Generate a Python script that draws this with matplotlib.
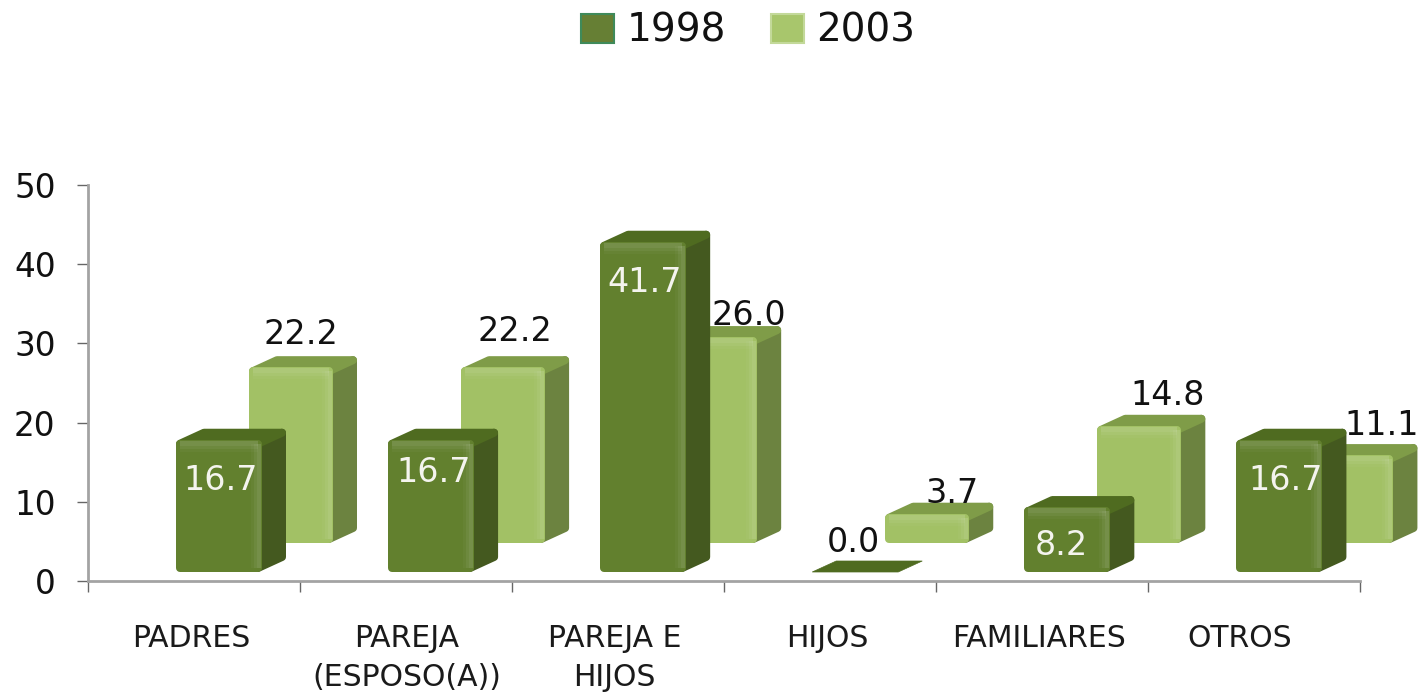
import numpy as np
import matplotlib
matplotlib.use('Agg')
import matplotlib.pyplot as plt
from matplotlib.patches import Patch, Polygon

categories = ['PADRES', 'PAREJA\n(ESPOSO(A))', 'PAREJA E\nHIJOS', 'HIJOS', 'FAMILIARES', 'OTROS']
years = ['1998', '2003']
values_1998 = [16.7, 16.7, 41.7, 0.0, 8.2, 16.7]
values_2003 = [22.2, 22.2, 26.0, 3.7, 14.8, 11.1]
y_ticks = [0, 10, 20, 30, 40, 50]

W, H = 1422, 696
AX_L, AX_R, AX_B, AX_T = 87.5, 1360, 581, 185
px_x = (AX_R - AX_L) / 6
px_y = (AX_B - AX_T) / 50
depth_x = 24 / px_x
depth_y = 11 / px_y
R = 4  # corner rounding in pixels


def bars_3d(ax, lefts, values, width, base, front, side, top, zorder):
    # side and top first, the front goes over them
    rx, ry = R / px_x, R / px_y
    for x, v in zip(lefts, values):
        y = base + v
        r = x + width
        if v > 0:
            ax.add_patch(Polygon([(r - rx, base + ry), (r + depth_x - rx, base + depth_y + ry),
                                  (r + depth_x - rx, y + depth_y - ry), (r - rx, y - ry)],
                                 fc=side, ec=side, lw=R * 1.44, joinstyle='round',
                                 zorder=zorder, clip_on=False))
            ax.add_patch(Polygon([(x + rx, y - ry), (x + depth_x + rx, y + depth_y - ry),
                                  (r + depth_x - rx, y + depth_y - ry), (r - rx, y - ry)],
                                 fc=top, ec=top, lw=R * 1.44, joinstyle='round',
                                 zorder=zorder + 0.1, clip_on=False))
            b = ax.bar(x + rx, v - 2 * ry, width=width - 2 * rx, bottom=base + ry, align='edge',
                       color=front, edgecolor=front, linewidth=R * 1.44, zorder=zorder + 0.2,
                       clip_on=False)
            b[0].set_joinstyle('round')
            # soft highlight along the right and top edge of the front
            for k, a in zip([11, 8, 5], [0.03, 0.05, 0.06]):
                ax.bar(r - k / px_x, v - 2 * ry, width=(k - 1) / px_x, bottom=base + ry, align='edge',
                       color='white', alpha=a, linewidth=0, zorder=zorder + 0.3, clip_on=False)
                ax.bar(x + rx, k / px_y, width=width - 2 * rx, bottom=y - (k + 1) / px_y, align='edge',
                       color='white', alpha=a, linewidth=0, zorder=zorder + 0.3, clip_on=False)
        else:
            ax.add_patch(Polygon([(x, y), (x + depth_x, y + depth_y),
                                  (r + depth_x, y + depth_y), (r, y)],
                                 fc=top, ec=top, lw=0.5, zorder=zorder, clip_on=False))


fig = plt.figure(figsize=(W / 100, H / 100), dpi=100)
ax = fig.add_axes([AX_L / W, 1 - AX_B / H, (AX_R - AX_L) / W, (AX_B - AX_T) / H])

idx = np.arange(6)
left_1998 = idx + (176 - AX_L) / px_x
left_2003 = idx + (249 - AX_L) / px_x
bars_3d(ax, left_2003, values_2003, 84 / px_x, 38 / px_y,
        '#a2c165', '#6c8340', '#7f9c48', 3)
bars_3d(ax, left_1998, values_1998, 86 / px_x, 9 / px_y,
        '#62802e', '#44591f', '#4f6b20', 5)
ax.set_xlim(0, 6)
ax.set_ylim(0, 50)

# data labels, offsets in pixels from the middle of the bar top
off_1998 = [(2, -41), (3, -33), (1, -41), (-2, 29), (-6, -38), (6, -41)]
off_2003 = [(10, 33), (12, 36), (34, 22), (25, 20), (28, 30), (30, 30)]
for i in idx:
    v = values_1998[i]
    dx, dy = off_1998[i]
    ax.annotate(f'{v:.1f}', (left_1998[i] + 43 / px_x, v + 9 / px_y),
                xytext=(dx * 0.72, dy * 0.72), textcoords='offset points',
                ha='center', va='center', fontsize=24,
                color='#111111' if v == 0 else '#f4f4ee', zorder=10, annotation_clip=False)
    v = values_2003[i]
    dx, dy = off_2003[i]
    ax.annotate(f'{v:.1f}', (left_2003[i] + 42 / px_x, v + 38 / px_y),
                xytext=(dx * 0.72, dy * 0.72), textcoords='offset points',
                ha='center', va='center', fontsize=24, color='#111111', zorder=10,
                annotation_clip=False)

for s in ['top', 'right']:
    ax.spines[s].set_visible(False)
for s in ['left', 'bottom']:
    ax.spines[s].set_color('#a3a3a3')
    ax.spines[s].set_linewidth(2)
ax.set_xticks(np.arange(7))
ax.set_xticklabels([])
ax.set_yticks(y_ticks)
ax.tick_params(axis='both', length=8, width=1, color='#666666')
ax.tick_params(axis='y', labelsize=23.5, labelcolor='#111111', pad=15)

# category names sit under the group centres, OTROS is a bit to the left
name_shift = [-2, 1, -3, -2, -3, -14]
for i, name in enumerate(categories):
    ax.annotate(name, (i + 0.5, 0), xytext=(name_shift[i] * 0.72, -31), textcoords='offset points',
                ha='center', va='top', fontsize=21.5, color='#1a1a1a', linespacing=1.42,
                annotation_clip=False)

handles = [Patch(fc='#667f34', ec='#3f8a5a', lw=1.5), Patch(fc='#a8c66c', ec='#c3d99a', lw=1.5)]
fig.legend(handles, years, loc='center', bbox_to_anchor=(748 / W, 1 - 31 / H), ncol=2,
           frameon=False, fontsize=28, handlelength=0.85, handleheight=0.75,
           handletextpad=0.33, columnspacing=1.15, labelcolor='#111111')

fig.savefig('out.png', dpi=100)
